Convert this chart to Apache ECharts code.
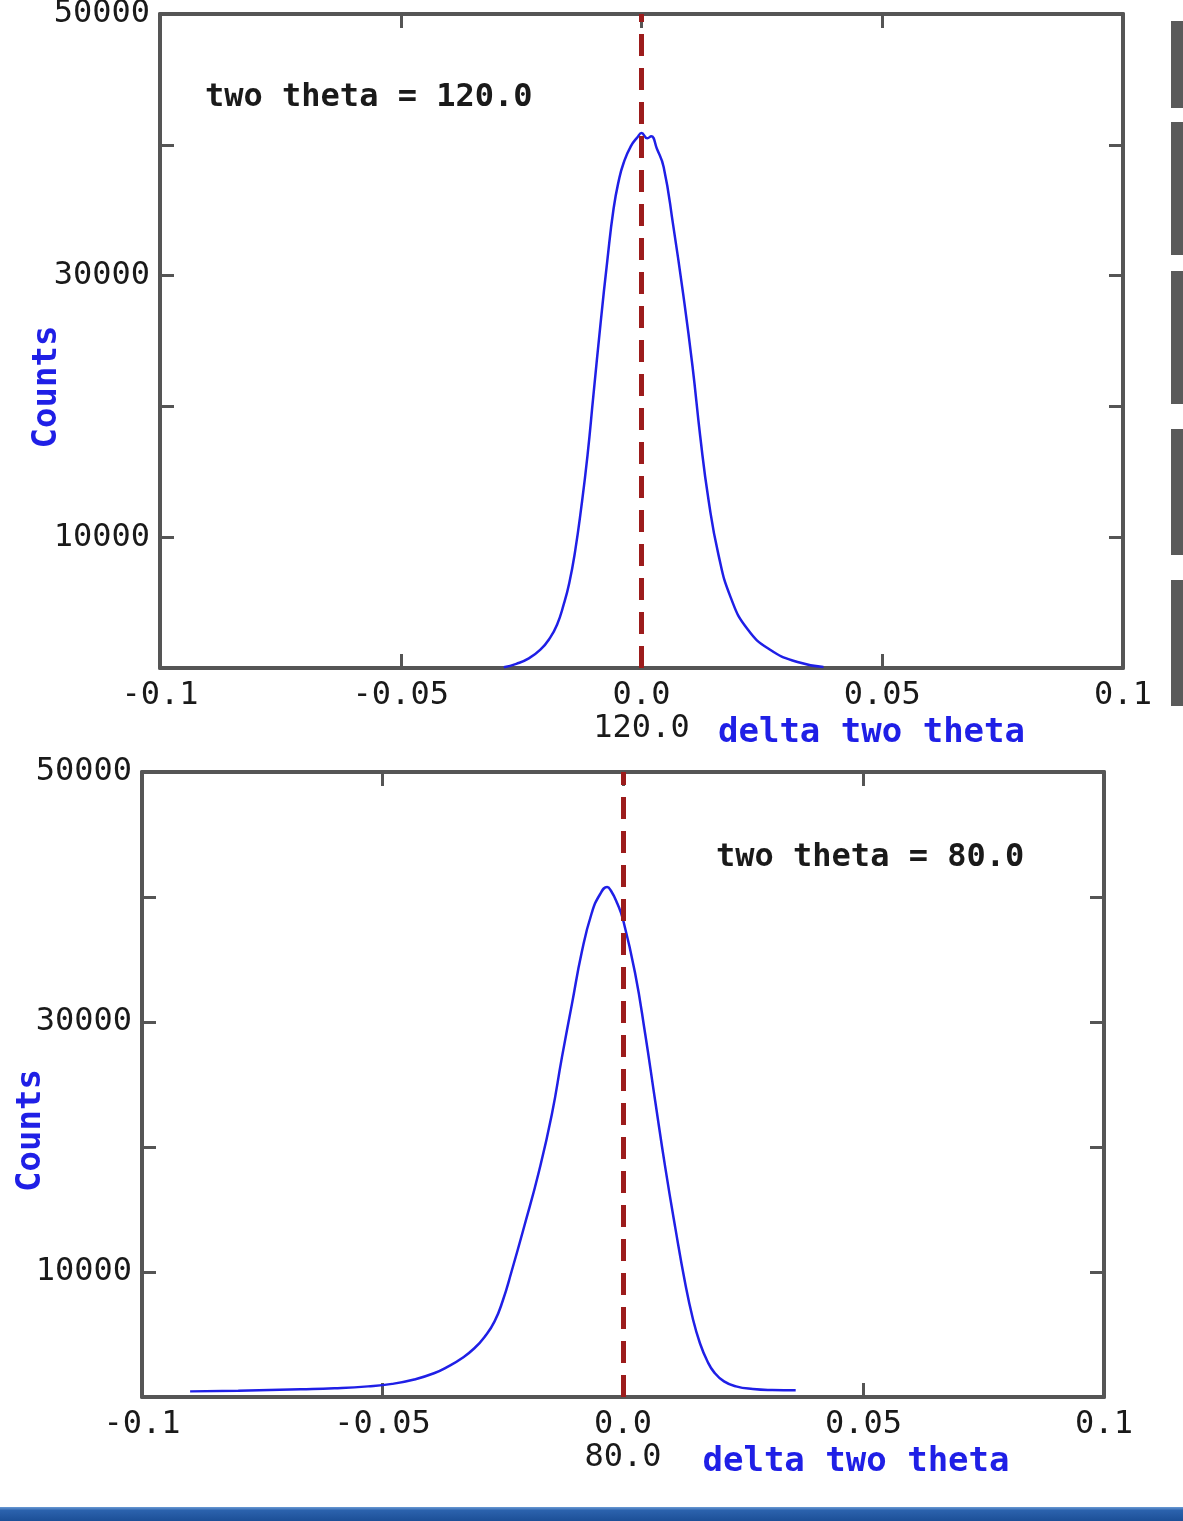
<!DOCTYPE html>
<html>
<head>
<meta charset="utf-8">
<script src="https://cdn.jsdelivr.net/npm/echarts@6/dist/echarts.min.js"></script>
<style>
html,body{margin:0;padding:0;background:#fff;}
#chart{width:1183px;height:1521px;}
</style>
</head>
<body>
<div id="chart"></div>
<script>
// ---- data ----
const xTickLabels = ['-0.1', '-0.05', '0.0', '0.05', '0.1'];
const yTickLabels = ['', '10000', '', '30000', '', '50000'];
const centerLabelTop = '120.0';
const centerLabelBottom = '80.0';
const annotationTop = 'two theta = 120.0';
const annotationBottom = 'two theta = 80.0';

const topDelta = [-0.0286, -0.026, -0.0235, -0.021, -0.019, -0.0175, -0.0162, -0.015, -0.0138, -0.0125,
  -0.0112, -0.01, -0.0085, -0.0071, -0.0058, -0.0047, -0.0037, -0.0022, -0.0008, 0.0,
  0.0012, 0.002, 0.0032, 0.0046, 0.0066, 0.0087, 0.0106, 0.0122, 0.0139, 0.016,
  0.0185, 0.022, 0.0268, 0.0324, 0.0378];
const topCounts = [50, 320, 720, 1400, 2300, 3350, 4800, 6500, 8900, 12300,
  16300, 20800, 26340, 31150, 35110, 37300, 38630, 39900, 40600, 40900,
  40500, 40650, 39700, 38300, 33800, 28470, 23050, 17700, 12900, 8630,
  5420, 2980, 1370, 460, 80];

const bottomDelta = [-0.09, -0.08, -0.067, -0.06, -0.053, -0.048, -0.0434, -0.0393, -0.0363, -0.0335,
  -0.0309, -0.0287, -0.0267, -0.025, -0.0232, -0.0205, -0.0175, -0.0148, -0.0127, -0.0106,
  -0.0086, -0.0065, -0.0048, -0.0033, -0.0025, -0.0012, 0.0, 0.0025, 0.0046, 0.0067,
  0.0088, 0.0109, 0.0129, 0.0145, 0.016, 0.0175, 0.019, 0.021, 0.0235, 0.027, 0.031, 0.0359];
const bottomCounts = [450, 500, 620, 700, 850, 1050, 1400, 1900, 2450, 3100,
  3900, 4850, 6050, 7700, 10000, 13700, 18000, 22600, 27170, 31470,
  35540, 38720, 40200, 40800, 40500, 39500, 38200, 33940, 29080, 23660,
  18330, 13470, 9160, 6300, 4300, 2900, 1950, 1250, 850, 640, 560, 540];

// ---- styling ----
const MONO = '"DejaVu Sans Mono", "Liberation Mono", monospace';
const AX = '#555555';
const BLUE = '#1f1fe6';
const RED = '#9c1c1c';

function zip(xs, ys) { return xs.map((x, i) => [x, ys[i]]); }

function xAxes(grid, centerExtra, namePad) {
  return [{
    gridIndex: grid, type: 'value', position: 'bottom',
    min: -0.1, max: 0.1, interval: 0.05,
    axisLine: { onZero: false, lineStyle: { color: AX, width: 4 } },
    axisTick: { inside: true, length: 14, lineStyle: { color: AX, width: 3 } },
    axisLabel: {
      margin: 11, fontFamily: MONO, fontSize: 32, color: '#1a1a1a', lineHeight: 33,
      showMinLabel: true, showMaxLabel: true,
      formatter: (v, i) => i === 2 ? xTickLabels[i] + '\n' + centerExtra : xTickLabels[i]
    },
    splitLine: { show: false },
    name: 'delta two theta', nameLocation: 'middle', nameGap: 48, nameMoveOverlap: false,
    nameTextStyle: { color: BLUE, fontFamily: MONO, fontWeight: 'bold', fontSize: 34, padding: [0, 0, 0, namePad] }
  }, {
    gridIndex: grid, type: 'value', position: 'top',
    min: -0.1, max: 0.1, interval: 0.05,
    axisLine: { onZero: false, lineStyle: { color: AX, width: 4 } },
    axisTick: { inside: true, length: 14, lineStyle: { color: AX, width: 3 } },
    axisLabel: { show: false }, splitLine: { show: false }
  }];
}

function yAxes(grid, nameGap) {
  return [{
    gridIndex: grid, type: 'value', position: 'left',
    min: 0, max: 50000, interval: 10000,
    axisLine: { onZero: false, lineStyle: { color: AX, width: 4 } },
    axisTick: { inside: true, length: 14, lineStyle: { color: AX, width: 3 } },
    axisLabel: {
      margin: 10, fontFamily: MONO, fontSize: 32, color: '#1a1a1a',
      showMinLabel: true, showMaxLabel: true,
      formatter: (v, i) => yTickLabels[i]
    },
    splitLine: { show: false },
    name: 'Counts', nameLocation: 'middle', nameGap: nameGap, nameMoveOverlap: false,
    nameTextStyle: { color: BLUE, fontFamily: MONO, fontWeight: 'bold', fontSize: 34, padding: [0, 92, 0, 0] }
  }, {
    gridIndex: grid, type: 'value', position: 'right',
    min: 0, max: 50000, interval: 10000,
    axisLine: { onZero: false, lineStyle: { color: AX, width: 4 } },
    axisTick: { inside: true, length: 14, lineStyle: { color: AX, width: 3 } },
    axisLabel: { show: false }, splitLine: { show: false }
  }];
}

function curve(xi, yi, data) {
  return {
    type: 'line', xAxisIndex: xi, yAxisIndex: yi, data: data,
    showSymbol: false, smooth: 0.5,
    lineStyle: { color: BLUE, width: 2.5 },
    z: 3,
    markLine: {
      silent: true, symbol: ['none', 'none'],
      label: { show: false },
      lineStyle: { color: RED, width: 5, type: [22, 12] },
      data: [{ xAxis: 0 }],
      animation: false
    }
  };
}

const chart = echarts.init(document.getElementById('chart'), null, { renderer: 'canvas' });
chart.setOption({
  animation: false,
  backgroundColor: '#ffffff',
  grid: [
    { left: 160, top: 14, width: 963, height: 654, outerBoundsMode: 'none', containLabel: false },
    { left: 142, top: 772, width: 962, height: 625, outerBoundsMode: 'none', containLabel: false }
  ],
  xAxis: [].concat(xAxes(0, centerLabelTop, 460), xAxes(1, centerLabelBottom, 466)),
  yAxis: [].concat(yAxes(0, 96), yAxes(1, 94)),
  series: [
    curve(0, 0, zip(topDelta, topCounts)),
    curve(2, 2, zip(bottomDelta, bottomCounts))
  ],
  graphic: [
    { type: 'text', left: 205, top: 82, style: { text: annotationTop, font: 'bold 32px ' + MONO, fill: '#1a1a1a' } },
    { type: 'text', left: 716, top: 842, style: { text: annotationBottom, font: 'bold 32px ' + MONO, fill: '#1a1a1a' } },
    { type: 'rect', shape: { x: 1171, y: 21, width: 12, height: 87 }, style: { fill: '#5a5a5a' } },
    { type: 'rect', shape: { x: 1171, y: 122, width: 12, height: 133 }, style: { fill: '#5a5a5a' } },
    { type: 'rect', shape: { x: 1171, y: 271, width: 12, height: 133 }, style: { fill: '#5a5a5a' } },
    { type: 'rect', shape: { x: 1171, y: 429, width: 12, height: 126 }, style: { fill: '#5a5a5a' } },
    { type: 'rect', shape: { x: 1171, y: 580, width: 12, height: 126 }, style: { fill: '#5a5a5a' } },
    { type: 'rect', shape: { x: 0, y: 1507, width: 1183, height: 14 },
      style: { fill: new echarts.graphic.LinearGradient(0, 0, 0, 1, [
        { offset: 0, color: '#6a9ad4' }, { offset: 0.25, color: '#2b62ad' }, { offset: 1, color: '#1c4f97' }]) } }
  ]
});
</script>
</body>
</html>
